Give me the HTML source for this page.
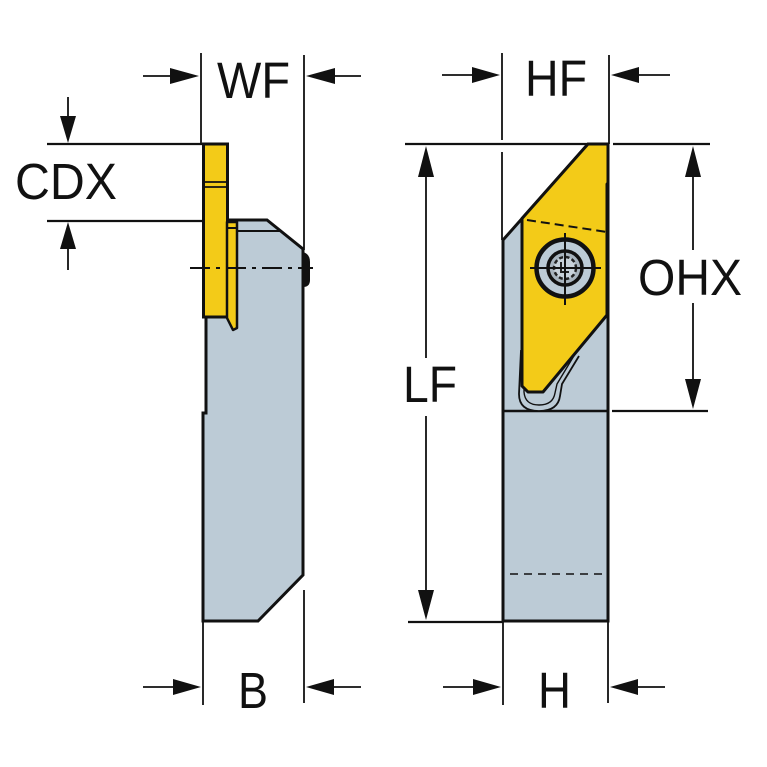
<!DOCTYPE html>
<html><head><meta charset="utf-8"><style>html,body{margin:0;padding:0;background:#fff}svg{display:block}</style></head>
<body>
<svg width="767" height="767" viewBox="0 0 767 767" xmlns="http://www.w3.org/2000/svg">
<rect width="767" height="767" fill="#fff"/>
<g font-family="Liberation Sans, Arial, sans-serif" font-size="51" fill="#111">
<text x="217" y="98" textLength="73" lengthAdjust="spacingAndGlyphs">WF</text>
<text x="15" y="199" textLength="102" lengthAdjust="spacingAndGlyphs">CDX</text>
<text x="525" y="96" textLength="62" lengthAdjust="spacingAndGlyphs">HF</text>
<text x="403" y="402" textLength="54" lengthAdjust="spacingAndGlyphs">LF</text>
<text x="638" y="295" textLength="104" lengthAdjust="spacingAndGlyphs">OHX</text>
<text x="238" y="708" textLength="30" lengthAdjust="spacingAndGlyphs">B</text>
<text x="538" y="708" textLength="33" lengthAdjust="spacingAndGlyphs">H</text>
</g>
<g stroke="#111" stroke-width="1.8" fill="none">
<line x1="201" y1="53" x2="201" y2="144"/>
<line x1="304" y1="55" x2="304" y2="250"/>
<line x1="143" y1="76" x2="190" y2="76"/>
<line x1="361" y1="76" x2="315" y2="76"/>
<line x1="47" y1="144" x2="203" y2="144" stroke-width="2.2"/>
<line x1="47" y1="221" x2="203" y2="221" stroke-width="2.2"/>
<line x1="68" y1="97" x2="68" y2="135"/>
<line x1="68" y1="270" x2="68" y2="230"/>
<line x1="502" y1="53" x2="502" y2="140"/>
<line x1="502" y1="152" x2="502" y2="240"/>
<line x1="609" y1="55" x2="609" y2="144"/>
<line x1="442" y1="75" x2="492" y2="75"/>
<line x1="670" y1="75" x2="619" y2="75"/>
<line x1="405" y1="144" x2="588" y2="144" stroke-width="2.2"/>
<line x1="613" y1="144" x2="710" y2="144" stroke-width="2.2"/>
<line x1="426" y1="170" x2="426" y2="358"/>
<line x1="426" y1="416" x2="426" y2="600"/>
<line x1="408" y1="622" x2="503" y2="622" stroke-width="2.2"/>
<line x1="693" y1="170" x2="693" y2="250"/>
<line x1="693" y1="303" x2="693" y2="388"/>
<line x1="612" y1="411" x2="708" y2="411" stroke-width="2.2"/>
<line x1="203" y1="622" x2="203" y2="705"/>
<line x1="304" y1="590" x2="304" y2="703"/>
<line x1="143" y1="687" x2="190" y2="687"/>
<line x1="361" y1="687" x2="315" y2="687"/>
<line x1="503" y1="622" x2="503" y2="705"/>
<line x1="608" y1="622" x2="608" y2="703"/>
<line x1="443" y1="687" x2="492" y2="687"/>
<line x1="665" y1="687" x2="618" y2="687"/>
</g>
<g fill="#111">
<polygon points="199,76 170,68 170,84"/>
<polygon points="306,76 335,68 335,84"/>
<polygon points="68,143 60,116 76,116"/>
<polygon points="68,222 60,249 76,249"/>
<polygon points="500,75 472,67 472,83"/>
<polygon points="611,75 639,67 639,83"/>
<polygon points="426,146 418,177 434,177"/>
<polygon points="426,620 418,590 434,590"/>
<polygon points="693,146 685,177 701,177"/>
<polygon points="693,409 685,379 701,379"/>
<polygon points="201,687 173,679 173,695"/>
<polygon points="306,687 334,679 334,695"/>
<polygon points="501,687 473,679 473,695"/>
<polygon points="610,687 638,679 638,695"/>
</g>

<!-- LEFT TOOL -->
<path d="M237,220 L267,220 L303,249 L303,575 L258,621 L203,621 L203,413 L206,413 L206,317 L227,317 L227,220 Z" fill="#bccbd6" stroke="#111" stroke-width="3" stroke-linejoin="miter"/>
<path d="M237,231 L280,231" stroke="#111" stroke-width="2" fill="none"/>
<path d="M303,252 Q310,254 310,262 L310,280 Q310,287 303,287 Z" fill="#111"/>
<rect x="203.5" y="144" width="24" height="173" fill="#f3cb18" stroke="#111" stroke-width="3"/>
<line x1="204" y1="182" x2="227" y2="182" stroke="#111" stroke-width="1.8"/>
<line x1="204" y1="187" x2="227" y2="187" stroke="#111" stroke-width="1.8"/>
<path d="M227,222 L237,222 L237,328 L233,330 L227,318 Z" fill="#f3cb18" stroke="#111" stroke-width="2.5" stroke-linejoin="round"/>
<line x1="227" y1="228" x2="237" y2="228" stroke="#111" stroke-width="2"/>
<line x1="190" y1="268" x2="313" y2="268" stroke="#111" stroke-width="2" stroke-dasharray="20,6,4,6"/>

<!-- RIGHT TOOL -->
<path d="M503,240 L588,144 L608,144 L608,621 L503,621 Z" fill="#bccbd6" stroke="#111" stroke-width="3" stroke-linejoin="miter"/>
<line x1="503" y1="411" x2="608" y2="411" stroke="#111" stroke-width="2.5"/>
<line x1="510" y1="574" x2="606" y2="574" stroke="#111" stroke-width="1.6" stroke-dasharray="8,6"/>
<path d="M521,350 L519,394 Q519,411 539,411 Q558,411 560,396 L562,384 L579,356" fill="#bccbd6" stroke="#111" stroke-width="1.8"/>
<path d="M525,350 L524,392 Q525,405 539,405 Q553,405 555,393 L557,384 L575,354" fill="none" stroke="#111" stroke-width="1.4"/>
<path d="M522,218.5 L588,144 L608,144 L608,183 L607,184 L607,315 L543,392 L528,392 L522,386 Z" fill="#f3cb18" stroke="#111" stroke-width="3" stroke-linejoin="round"/>
<line x1="527" y1="220" x2="607" y2="232" stroke="#111" stroke-width="2" stroke-dasharray="9,5"/>
<circle cx="565" cy="268" r="28.5" fill="#bccbd6" stroke="#111" stroke-width="4.5"/>
<circle cx="565" cy="268" r="17" fill="#a8b4be" stroke="#111" stroke-width="3.5"/>
<circle cx="565" cy="268" r="11" fill="#c8d2da" stroke="#222" stroke-width="2.5" stroke-dasharray="4,2.5"/>
<path d="M561,262 L561,272 L569,272" fill="none" stroke="#222" stroke-width="2"/>
<line x1="530" y1="268" x2="601" y2="268" stroke="#111" stroke-width="2"/>
<line x1="565" y1="233" x2="565" y2="305" stroke="#111" stroke-width="2"/>
</svg>
</body></html>
